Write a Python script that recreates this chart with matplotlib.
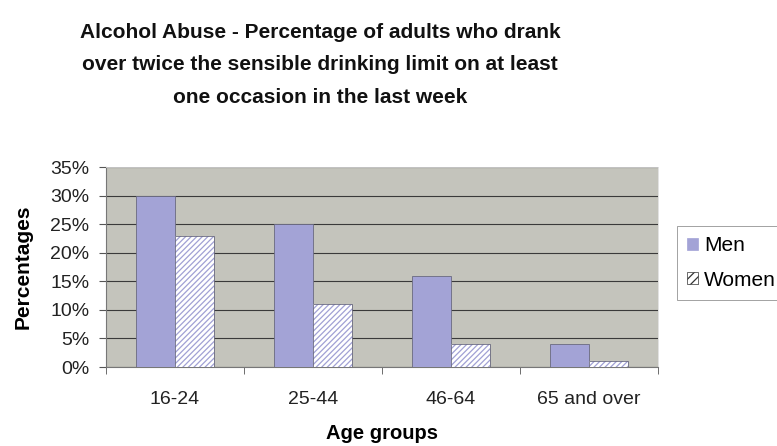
import numpy as np
import matplotlib.pyplot as plt
from matplotlib.patches import Patch

plt.rcParams['font.family'] = ['Liberation Sans', 'DejaVu Sans']
plt.rcParams['hatch.linewidth'] = 0.9

groups = ['16-24', '25-44', '46-64', '65 and over']
men = [30, 25, 16, 4]
women = [23, 11, 4, 1]

men_color = '#a3a3d6'
hatch_color = '#a0a0d4'
edge_color = '#6a6a80'
bg_color = '#c4c4bc'

fig = plt.figure(figsize=(7.77, 4.46), dpi=100)
ax = fig.add_axes([106/777, 1 - 367/446, (658-106)/777, (367-167)/446])
ax.set_facecolor(bg_color)

x = np.arange(len(groups))
w = 0.286
ax.bar(x - w/2, men, w, color=men_color, edgecolor=edge_color, linewidth=0.6, zorder=3)
# women: white with lavender hatching, then a grey outline on top
ax.bar(x + w/2, women, w, color='white', edgecolor=hatch_color, linewidth=0,
       hatch='//////', zorder=3)
ax.bar(x + w/2, women, w, fill=False, edgecolor=edge_color, linewidth=0.6, zorder=4)

ax.set_xlim(-0.5, len(groups) - 0.5)
ax.set_ylim(0, 35)
ax.set_yticks(np.arange(0, 36, 5))
ax.set_yticklabels([f'{v}%' for v in range(0, 36, 5)], fontsize=14, color='#222222')
ax.yaxis.grid(True, color='#3a3a3a', linewidth=0.8, zorder=1)
ax.set_axisbelow(True)

ax.set_xticks(x)
ax.set_xticklabels(groups, fontsize=14, color='#222222')
ax.set_xticks(np.arange(-0.5, len(groups)), minor=True)
ax.tick_params(axis='x', which='major', length=0, pad=17)
ax.tick_params(axis='x', which='minor', length=5, direction='out', color='#555555')
ax.tick_params(axis='y', length=5, color='#555555', pad=7)

for s in ['top', 'right']:
    ax.spines[s].set_color('#dddddd')
    ax.spines[s].set_linewidth(0.6)
for s in ['left', 'bottom']:
    ax.spines[s].set_color('#777777')
    ax.spines[s].set_linewidth(0.8)

ax.set_xlabel('Age groups', fontsize=14.5, fontweight='bold', labelpad=12)
ax.set_ylabel('Percentages', fontsize=15, fontweight='bold', labelpad=13)

fig.text(320/777, 1 - 65/446,
         'Alcohol Abuse - Percentage of adults who drank\n'
         'over twice the sensible drinking limit on at least\n'
         'one occasion in the last week',
         ha='center', va='center', fontsize=15, fontweight='bold',
         linespacing=1.88, color='#111111')

handles = [Patch(facecolor=men_color, edgecolor=men_color, linewidth=0.5),
           Patch(facecolor='white', edgecolor='#333333', hatch='////', linewidth=0.5)]
leg = fig.legend(handles, ['Men', 'Women'], loc='center left',
                 bbox_to_anchor=(677/777, 1 - 263/446), fontsize=15,
                 frameon=True, fancybox=False, edgecolor='#777777',
                 handlelength=0.5, handleheight=0.5, handletextpad=0.3,
                 borderpad=0.5, labelspacing=0.75, borderaxespad=0)
leg.get_frame().set_linewidth(0.6)

fig.savefig('out.png', dpi=100)
